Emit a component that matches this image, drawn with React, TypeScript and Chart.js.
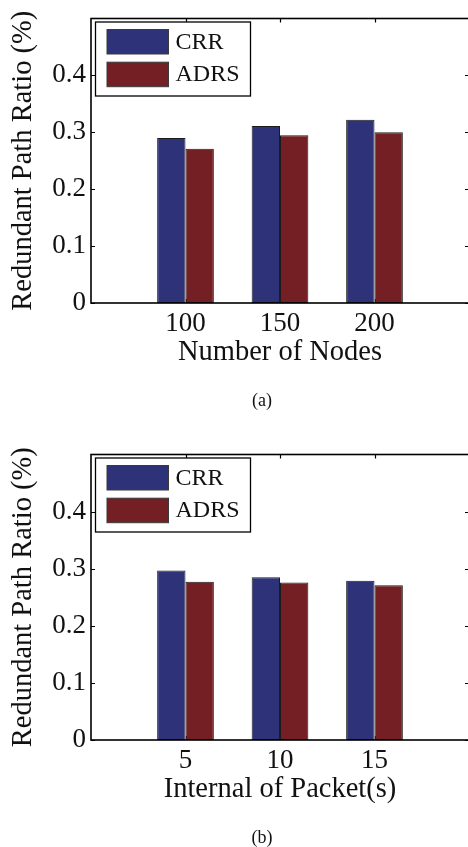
import { useEffect, useRef } from "react";
import { Chart, registerables } from "chart.js";

Chart.register(...registerables);

// Series shown in both panels
const seriesNames = ["CRR", "ADRS"];
const seriesColors = ["#2e3379", "#731f23"];

// Panel (a): redundant path ratio vs. number of nodes
const nodeCounts = ["100", "150", "200"];
const crrByNodes = [0.29, 0.311, 0.322];
const adrsByNodes = [0.271, 0.295, 0.3];

// Panel (b): redundant path ratio vs. packet interval
const packetIntervals = ["5", "10", "15"];
const crrByInterval = [0.297, 0.285, 0.279];
const adrsByInterval = [0.277, 0.276, 0.271];

// Y axis tick values (axis runs to 0.5 without a label there)
const yTicks = [0, 0.1, 0.2, 0.3, 0.4];
const yMax = 0.5;

const FONT = "'Liberation Serif', 'Times New Roman', Times, serif";

type PanelProps = {
  top: number;
  height: number;
  padBottom: number;
  labels: string[];
  crr: number[];
  adrs: number[];
  xTitle: string;
  caption: string;
};

// Box frame with inward MATLAB-style tick marks
const framePlugin = {
  id: "frame",
  beforeDatasetsDraw(chart: any) {
    const { ctx, chartArea: a, scales } = chart;
    ctx.save();
    ctx.strokeStyle = "#000";
    ctx.lineWidth = 1.2;
    const tl = 4;
    ctx.beginPath();
    scales.y.ticks.forEach((t: any, i: number) => {
      const py = Math.round(scales.y.getPixelForTick(i)) + 0.5;
      ctx.moveTo(a.left, py);
      ctx.lineTo(a.left + tl, py);
      ctx.moveTo(a.right, py);
      ctx.lineTo(a.right - tl, py);
    });
    const labels = chart.data.labels as string[];
    labels.forEach((lab, i) => {
      if (!lab) return;
      const px = Math.round(scales.x.getPixelForValue(i)) + 0.5;
      ctx.moveTo(px, a.top);
      ctx.lineTo(px, a.top + tl);
      ctx.moveTo(px, a.bottom);
      ctx.lineTo(px, a.bottom - tl);
    });
    ctx.stroke();
    ctx.restore();
  },
  afterDatasetsDraw(chart: any) {
    const { ctx, chartArea: a } = chart;
    ctx.save();
    ctx.strokeStyle = "#000";
    ctx.lineWidth = 1.6;
    ctx.strokeRect(a.left, a.top, a.right - a.left, a.bottom - a.top);
    ctx.restore();
  },
};

// Boxed legend in the upper-left corner of the plot
const legendPlugin = {
  id: "boxLegend",
  afterDraw(chart: any) {
    const { ctx, chartArea: a } = chart;
    const x0 = a.left + 4.5;
    const y0 = a.top + 3.5;
    const w = 155;
    const h = 74;
    ctx.save();
    ctx.fillStyle = "#fff";
    ctx.fillRect(x0, y0, w, h);
    ctx.strokeStyle = "#000";
    ctx.lineWidth = 1.3;
    ctx.strokeRect(x0, y0, w, h);
    ctx.font = `24px ${FONT}`;
    ctx.textBaseline = "middle";
    ctx.textAlign = "left";
    chart.data.datasets.forEach((ds: any, i: number) => {
      const sy = y0 + 7.5 + i * 32.7;
      ctx.fillStyle = ds.backgroundColor;
      ctx.fillRect(x0 + 11.5, sy, 61.5, 24.5);
      ctx.strokeStyle = "#3a3a3a";
      ctx.lineWidth = 1;
      ctx.strokeRect(x0 + 11.5, sy, 61.5, 24.5);
      ctx.fillStyle = "#111";
      ctx.fillText(ds.label, x0 + 80, sy + 13);
    });
    ctx.restore();
  },
};

// Sub-figure caption under the axis title
const captionPlugin = {
  id: "caption",
  afterDraw(chart: any, _args: any, opts: any) {
    const { ctx, chartArea: a } = chart;
    ctx.save();
    ctx.font = `18px ${FONT}`;
    ctx.fillStyle = "#111";
    ctx.textAlign = "center";
    ctx.textBaseline = "middle";
    ctx.fillText(opts.text, (a.left + a.right) / 2 - 18, a.bottom + 98);
    ctx.restore();
  },
};

function Panel(props: PanelProps) {
  const ref = useRef<HTMLCanvasElement>(null);
  useEffect(() => {
    const canvas = ref.current;
    if (!canvas) return;
    const labels = ["", ...props.labels, ""];
    const pad = (v: number[]) => [null, ...v, null];
    const chart = new Chart(canvas, {
      type: "bar",
      data: {
        labels,
        datasets: [
          {
            label: seriesNames[0],
            data: pad(props.crr),
            backgroundColor: seriesColors[0],
            borderColor: "#1c1c1c",
            borderWidth: 1,
            borderSkipped: false,
            categoryPercentage: 0.6,
            barPercentage: 1,
          },
          {
            label: seriesNames[1],
            data: pad(props.adrs),
            backgroundColor: seriesColors[1],
            borderColor: "#1c1c1c",
            borderWidth: 1,
            borderSkipped: false,
            categoryPercentage: 0.6,
            barPercentage: 1,
          },
        ],
      },
      options: {
        responsive: false,
        animation: false,
        layout: { padding: { left: 0, top: 18, right: 11, bottom: props.padBottom } },
        plugins: {
          legend: { display: false },
          tooltip: { enabled: false },
          caption: { text: props.caption },
        } as any,
        scales: {
          x: {
            type: "category",
            offset: false,
            grid: { display: false, drawTicks: false },
            border: { display: false },
            ticks: {
              autoSkip: false,
              maxRotation: 0,
              padding: 7,
              color: "#111",
              font: { family: FONT, size: 27, lineHeight: 1 },
            },
            title: {
              display: true,
              text: props.xTitle,
              color: "#111",
              font: { family: FONT, size: 28.5, lineHeight: 1 },
              padding: { top: 0, bottom: 6 },
            },
            afterFit: (s: any) => {
              s.height = 70;
            },
          },
          y: {
            min: 0,
            max: yMax,
            grid: { display: false, drawTicks: false },
            border: { display: false },
            afterBuildTicks: (s: any) => {
              s.ticks = yTicks.map((v) => ({ value: v }));
            },
            ticks: {
              padding: 5,
              color: "#111",
              font: { family: FONT, size: 27, lineHeight: 1 },
              callback: (v: any) => String(v),
            },
            title: {
              display: true,
              text: "Redundant Path Ratio (%)",
              color: "#111",
              font: { family: FONT, size: 28.5, lineHeight: 1 },
              padding: { top: 9, bottom: 0 },
            },
            afterFit: (s: any) => {
              s.width = 91;
            },
          },
        },
      },
      plugins: [framePlugin, legendPlugin, captionPlugin],
    });
    return () => chart.destroy();
  }, []);
  return (
    <canvas
      ref={ref}
      width={480}
      height={props.height}
      style={{ position: "absolute", left: 0, top: props.top, width: 480, height: props.height }}
    />
  );
}

export default function App() {
  return (
    <div
      style={{
        position: "fixed",
        left: 0,
        top: 0,
        width: 468,
        height: 847,
        overflow: "hidden",
        background: "#fff",
      }}
    >
      <Panel
        top={0}
        height={420}
        padBottom={47}
        labels={nodeCounts}
        crr={crrByNodes}
        adrs={adrsByNodes}
        xTitle="Number of Nodes"
        caption="(a)"
      />
      <Panel
        top={436}
        height={411}
        padBottom={37}
        labels={packetIntervals}
        crr={crrByInterval}
        adrs={adrsByInterval}
        xTitle="Internal of Packet(s)"
        caption="(b)"
      />
    </div>
  );
}
